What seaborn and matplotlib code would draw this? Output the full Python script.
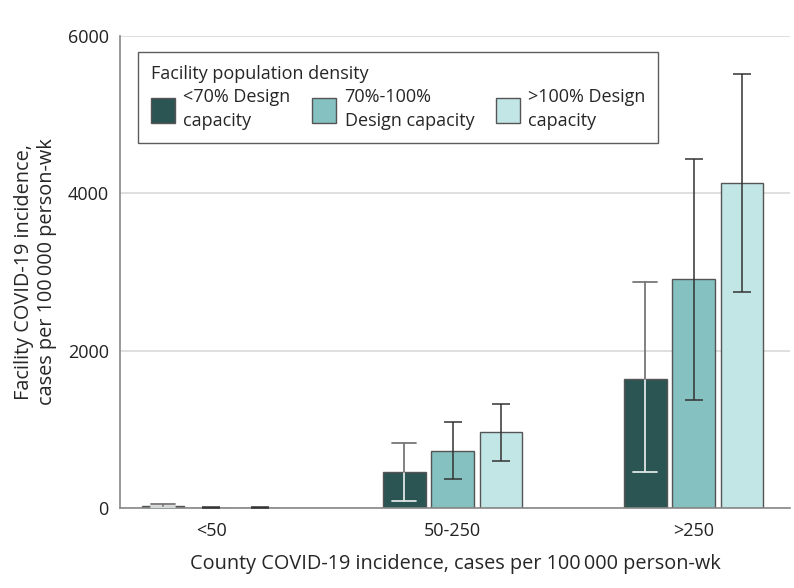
import numpy as np
import pandas as pd
import matplotlib
matplotlib.use("Agg")
import matplotlib.pyplot as plt
import seaborn as sns

# ---------------- data ----------------
county_groups = ["<50", "50-250", ">250"]
density_groups = ["<70% Design\ncapacity", "70%-100%\nDesign capacity", ">100% Design\ncapacity"]
incidence = {
    density_groups[0]: [30, 458, 1645],
    density_groups[1]: [6, 725, 2910],
    density_groups[2]: [6, 966, 4130],
}
ci_low = {
    density_groups[0]: [15, 90, 455],
    density_groups[1]: [2, 370, 1375],
    density_groups[2]: [2, 600, 2745],
}
ci_high = {
    density_groups[0]: [48, 826, 2870],
    density_groups[1]: [14, 1095, 4435],
    density_groups[2]: [14, 1322, 5515],
}
bar_colors = ["#2a5553", "#84c1c0", "#c1e6e5"]

rows = []
for d in density_groups:
    for i, c in enumerate(county_groups):
        rows.append({"county": c, "density": d, "value": incidence[d][i],
                     "lo": ci_low[d][i], "hi": ci_high[d][i]})
df = pd.DataFrame(rows)

sns.set_style("white")
plt.rcParams["font.family"] = ["Open Sans", "DejaVu Sans"]

fig, ax = plt.subplots(figsize=(7.94, 5.88), dpi=100)
fig.subplots_adjust(left=0.151, right=0.995, top=0.939, bottom=0.136)

sns.barplot(data=df, x="county", y="value", hue="density",
            order=county_groups, hue_order=density_groups,
            palette=bar_colors, saturation=1, width=0.6, gap=0.12, errorbar=None,
            edgecolor="#555555", linewidth=1.0, ax=ax)

# asymmetric error bars on the seaborn bars
for k, d in enumerate(density_groups):
    cont = ax.containers[k]
    sub = df[df["density"] == d].set_index("county").loc[county_groups]
    for j, bar in enumerate(cont):
        xc = bar.get_x() + bar.get_width() / 2
        v = sub["value"].iloc[j]
        lo = sub["lo"].iloc[j]
        hi = sub["hi"].iloc[j]
        if k == 0:
            # lower part inside the dark bar is light, upper part gray
            ax.plot([xc, xc], [lo, v], color="#dfe6e6", lw=1.3, zorder=4)
            ax.plot([xc - 0.05, xc + 0.05], [lo, lo], color="#dfe6e6", lw=1.3, zorder=4)
            ax.plot([xc, xc], [v, hi], color="#777777", lw=1.3, zorder=4)
            ax.plot([xc - 0.05, xc + 0.05], [hi, hi], color="#777777", lw=1.3, zorder=4)
        else:
            ax.errorbar(xc, v, yerr=[[v - lo], [hi - v]], fmt="none",
                        ecolor="#333333", elinewidth=1.1, capsize=6.5,
                        capthick=1.1, zorder=4)

ax.set_ylim(0, 6000)
ax.set_xlim(-0.38, 2.4)
ax.set_yticks([0, 2000, 4000, 6000])
ax.yaxis.grid(True, color="#d9d9d9", lw=1.2)
ax.set_axisbelow(True)
for s in ["top", "right"]:
    ax.spines[s].set_visible(False)
ax.spines["left"].set_color("#888888")
ax.spines["bottom"].set_color("#888888")
ax.spines["left"].set_linewidth(1.2)
ax.spines["bottom"].set_linewidth(1.2)
ax.tick_params(axis="both", labelsize=13, colors="#222222", length=0, pad=10)
ax.tick_params(axis="y", length=5, color="#888888", width=1.2, pad=3)

ax.set_xlabel("County COVID-19 incidence, cases per 100\u2009000 person-wk",
              fontsize=14.3, labelpad=10)
ax.set_ylabel("Facility COVID-19 incidence,\ncases per 100\u2009000 person-wk",
              fontsize=14.3, labelpad=8)

leg = ax.legend(title="Facility population density", ncol=3,
                loc="upper left", bbox_to_anchor=(0.027, 0.966),
                fontsize=13, title_fontsize=13, frameon=True, fancybox=False,
                edgecolor="#333333", handlelength=1.35, handleheight=1.8,
                columnspacing=1.2, handletextpad=0.45, borderpad=0.7,
                labelspacing=0.3, borderaxespad=0)
for t in leg.get_texts():
    t.set_linespacing(1.45)
leg._legend_box.align = "left"
leg.get_frame().set_linewidth(1.0)

fig.savefig("out.png", dpi=100)
